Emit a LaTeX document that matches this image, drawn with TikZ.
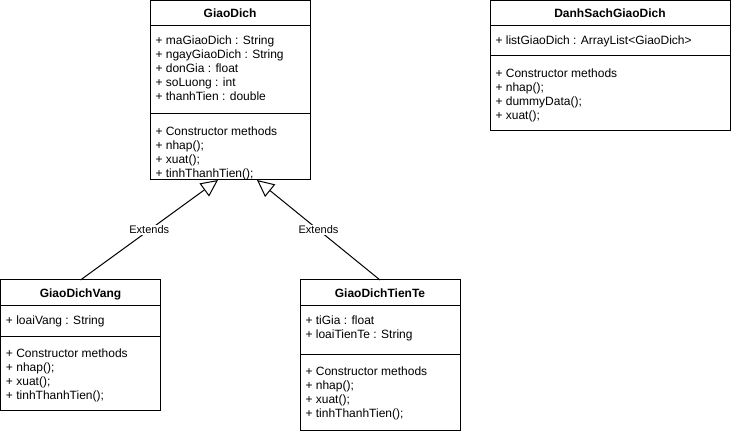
\documentclass[tikz,border=0pt]{standalone}
\usepackage{fontspec}
\setmainfont{Liberation Sans}
\usetikzlibrary{arrows.meta,calc}
\newcommand\umlmembers[4]{%
  \foreach \t [count=\i from 0] in {#4} {\node[member] (#1\i) at (#2,{#3+14*\i}) {\t};}}
\begin{document}
\begin{tikzpicture}[x=0.75pt,y=-0.75pt,
  every node/.style={inner sep=0pt, outer sep=0pt},
  umlbox/.style={draw, line width=0.75pt, anchor=north west},
  member/.style={anchor=base west, font=\fontsize{9}{10.5}\selectfont},
  ctitle/.style={anchor=base, font=\fontsize{9}{10.5}\selectfont\bfseries},
  divider/.style={line width=0.75pt},
  inherit/.style={line width=0.75pt, -{Triangle[open, length=12.75pt, width=12pt]}},
  elabel/.style={fill=white, inner sep=1pt, font=\fontsize{8.25}{10}\selectfont}
]
\useasboundingbox (0,0) rectangle (731,434);

% GiaoDich
\node[umlbox, minimum width=120pt, minimum height=134.625pt] (gd) at (150,0.5) {};
\node[ctitle] (gdt) at (230,17.5) {GiaoDich};
\draw[divider] (150,26) -- (310,26);
\draw[divider] (150,114) -- (310,114);
\umlmembers{gda}{155.5}{44.3}{+ maGiaoDich : String,+ ngayGiaoDich : String,+ donGia : float,+ soLuong : int,+ thanhTien : double}
\umlmembers{gdm}{155.5}{135.3}{+ Constructor methods,+ nhap();,+ xuat();,+ tinhThanhTien();}

% DanhSachGiaoDich
\node[umlbox, minimum width=180pt, minimum height=97.875pt] (ds) at (490,0.5) {};
\node[ctitle] (dst) at (610,17.5) {DanhSachGiaoDich};
\draw[divider] (490,26) -- (730,26);
\draw[divider] (490,56) -- (730,56);
\umlmembers{dsa}{495.5}{44.3}{+ listGiaoDich : ArrayList<GiaoDich>}
\umlmembers{dsm}{495.5}{77.3}{+ Constructor methods,+ nhap();,+ dummyData();,+ xuat();}

% GiaoDichVang
\node[umlbox, minimum width=120pt, minimum height=97.5pt] (gdv) at (0.5,280) {};
\node[ctitle] (gdvt) at (80.5,297.5) {GiaoDichVang};
\draw[divider] (0.5,306) -- (160.5,306);
\draw[divider] (0.5,336) -- (160.5,336);
\umlmembers{gdva}{6}{324.3}{+ loaiVang : String}
\umlmembers{gdvm}{6}{357.3}{+ Constructor methods,+ nhap();,+ xuat();,+ tinhThanhTien();}

% GiaoDichTienTe
\node[umlbox, minimum width=120pt, minimum height=112.5pt] (gdt2) at (300,280) {};
\node[ctitle] (gdtt) at (380,297.5) {GiaoDichTienTe};
\draw[divider] (300,306) -- (460,306);
\draw[divider] (300,354) -- (460,354);
\umlmembers{gdta}{305.5}{324.3}{+ tiGia : float,+ loaiTienTe : String}
\umlmembers{gdtm}{305.5}{375.3}{+ Constructor methods,+ nhap();,+ xuat();,+ tinhThanhTien();}

% inheritance
\coordinate (gdL) at ($(gd.south)+(-12,0)$);
\coordinate (gdR) at ($(gd.south)+(27,0)$);
\draw[inherit] (gdv.north) -- (gdL) node[elabel, midway] (e1) {Extends};
\draw[inherit] (gdt2.north) -- (gdR) node[elabel, midway] (e2) {Extends};
\end{tikzpicture}
\end{document}
